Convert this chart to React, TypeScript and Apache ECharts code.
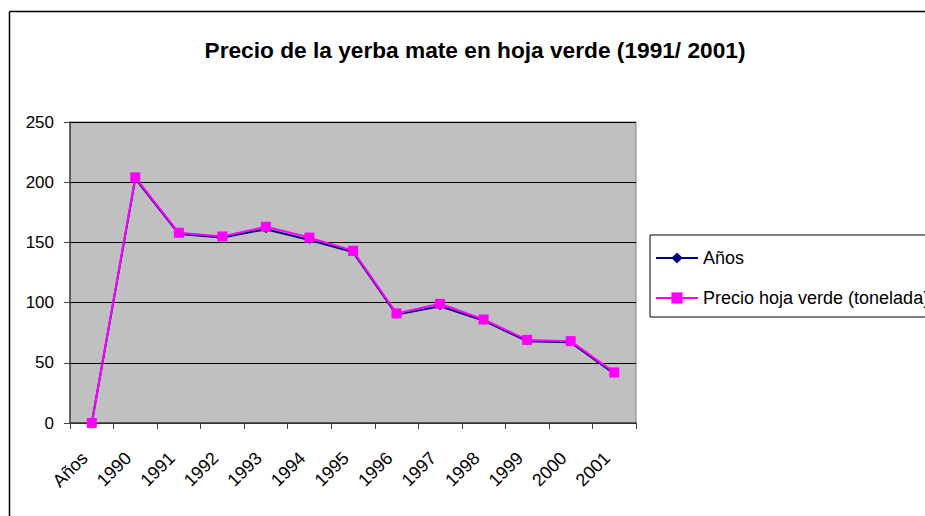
import React, { useEffect, useRef } from "react";
import * as echarts from "echarts";

const categories = ["Años", "1990", "1991", "1992", "1993", "1994", "1995", "1996", "1997", "1998", "1999", "2000", "2001"];
const aniosValues = [0, 203, 157, 154, 161, 152, 142, 90, 97, 85, 68, 67, 41];
const precioValues = [0, 204, 158, 155, 163, 154, 143, 91, 99, 86, 69, 68, 42];
const yTicks = [0, 50, 100, 150, 200, 250];

const FONT = "'Liberation Sans', Arial, sans-serif";

export default function App() {
  const ref = useRef<HTMLDivElement>(null);
  useEffect(() => {
    const chart = echarts.init(ref.current!, null, { renderer: "svg" });
    chart.setOption({
      animation: false,
      backgroundColor: "#ffffff",
      title: {
        text: "Precio de la yerba mate en hoja verde (1991/ 2001)",
        left: 470,
        textAlign: "center",
        top: 33,
        textStyle: { fontFamily: FONT, fontSize: 22.7, fontWeight: "bold", color: "#000" },
      },
      legend: {
        orient: "vertical",
        left: 650,
        top: 235,
        padding: [14, 60, 10, 5],
        itemGap: 22,
        itemWidth: 42,
        itemHeight: 14,
        borderColor: "#000",
        borderWidth: 1,
        textStyle: { fontFamily: FONT, fontSize: 18, color: "#000" },
        data: ["Años", "Precio hoja verde (tonelada)"],
      },
      grid: { left: 70, right: 289, top: 122, bottom: 93, show: true, backgroundColor: "#C0C0C0", borderColor: "#808080", borderWidth: 1 },
      xAxis: {
        type: "category",
        data: categories,
        boundaryGap: true,
        axisLine: { lineStyle: { color: "#404040", width: 1.5 } },
        axisTick: { show: true, length: 6, lineStyle: { color: "#404040" } },
        axisLabel: { rotate: 45, margin: 25, padding: [0, 10, 0, 0], fontFamily: FONT, fontSize: 18, color: "#000", interval: 0 },
      },
      yAxis: {
        type: "value",
        min: 0,
        max: 250,
        interval: 50,
        axisLine: { show: true, lineStyle: { color: "#404040", width: 1.5 } },
        axisTick: { show: true, length: 6, lineStyle: { color: "#404040" } },
        axisLabel: {
          fontFamily: FONT,
          fontSize: 17,
          color: "#000",
          margin: 16,
          formatter: (v: number) => (yTicks.includes(v) ? String(v) : ""),
        },
        splitLine: { show: true, lineStyle: { color: "#000", width: 1 } },
      },
      graphic: [
        {
          type: "line",
          shape: { x1: 9.5, y1: 11.5, x2: 925, y2: 11.5 },
          style: { stroke: "#000", lineWidth: 1.5 },
          silent: true,
          z: 100,
        },
        {
          type: "line",
          shape: { x1: 9.5, y1: 11.5, x2: 9.5, y2: 516 },
          style: { stroke: "#000", lineWidth: 1.5 },
          silent: true,
          z: 100,
        },
      ],
      series: [
        {
          name: "Años",
          type: "line",
          data: aniosValues,
          symbol: "diamond",
          symbolSize: 8,
          lineStyle: { color: "#000080", width: 2 },
          itemStyle: { color: "#000080" },
          z: 2,
        },
        {
          name: "Precio hoja verde (tonelada)",
          type: "line",
          data: precioValues,
          symbol: "rect",
          symbolSize: 10,
          lineStyle: { color: "#FF00FF", width: 2 },
          itemStyle: { color: "#FF00FF" },
          z: 3,
        },
      ],
    });
    return () => chart.dispose();
  }, []);
  return <div ref={ref} style={{ position: "fixed", left: 0, top: 0, width: 925, height: 516 }} />;
}
